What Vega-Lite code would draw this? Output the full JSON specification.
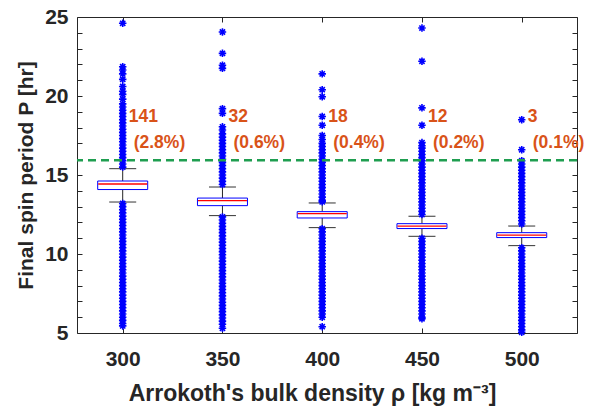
{
 "$schema": "https://vega.github.io/schema/vega-lite/v6.json",
 "autosize": "none",
 "width": 500,
 "height": 316,
 "padding": {"left": 77, "top": 17, "right": 21, "bottom": 73},
 "background": "white",
 "config": {
  "view": {"stroke": "#262626", "strokeWidth": 1},
  "font": "Liberation Sans",
  "axis": {"grid": false, "domain": false, "tickColor": "#262626", "tickWidth": 1, "labelColor": "#262626", "titleColor": "#262626", "labelFont": "Liberation Sans", "titleFont": "Liberation Sans", "labelFontWeight": "bold", "titleFontWeight": "bold", "labelFontSize": 21, "titleFontSize": 21, "labelFlush": false, "labelOverlap": false}
 },
 "datasets": {
  "box": [
   {"d": 300, "lo": 13.29, "q1": 14.08, "med": 14.43, "q3": 14.62, "hi": 15.4},
   {"d": 350, "lo": 12.43, "q1": 13.06, "med": 13.38, "q3": 13.54, "hi": 14.24},
   {"d": 400, "lo": 11.67, "q1": 12.28, "med": 12.56, "q3": 12.68, "hi": 13.23},
   {"d": 450, "lo": 11.12, "q1": 11.61, "med": 11.77, "q3": 11.92, "hi": 12.39},
   {"d": 500, "lo": 10.53, "q1": 11.04, "med": 11.2, "q3": 11.35, "hi": 11.77}
  ],
  "lab": [
   {"d": 300, "n": "141", "pct": "(2.8%)"},
   {"d": 350, "n": "32", "pct": "(0.6%)"},
   {"d": 400, "n": "18", "pct": "(0.4%)"},
   {"d": 450, "n": "12", "pct": "(0.2%)"},
   {"d": 500, "n": "3", "pct": "(0.1%)"}
  ],
  "out": [
   {"d":300,"p":24.6},{"d":300,"p":21.85},{"d":300,"p":21.65},{"d":300,"p":21.4},{"d":300,"p":21.05},{"d":300,"p":20.6},{"d":300,"p":20.3},{"d":300,"p":20.1},{"d":300,"p":19.8},{"d":300,"p":19.5},{"d":300,"p":19.3},{"d":300,"p":19.1},{"d":300,"p":18.9},{"d":300,"p":18.7},{"d":300,"p":18.5},{"d":300,"p":18.3},{"d":300,"p":18.1},{"d":300,"p":17.9},{"d":300,"p":17.7},{"d":300,"p":17.5},{"d":300,"p":17.3},{"d":300,"p":17.1},{"d":300,"p":16.9},{"d":300,"p":16.7},{"d":300,"p":16.5},{"d":300,"p":16.3},{"d":300,"p":16.1},{"d":300,"p":15.9},{"d":300,"p":15.7},{"d":300,"p":15.5},
   {"d":300,"p":13.2},{"d":300,"p":13.0},{"d":300,"p":12.8},{"d":300,"p":12.6},{"d":300,"p":12.4},{"d":300,"p":12.2},{"d":300,"p":12.0},{"d":300,"p":11.8},{"d":300,"p":11.6},{"d":300,"p":11.4},{"d":300,"p":11.2},{"d":300,"p":11.0},{"d":300,"p":10.8},{"d":300,"p":10.6},{"d":300,"p":10.4},{"d":300,"p":10.2},{"d":300,"p":10.0},{"d":300,"p":9.8},{"d":300,"p":9.6},{"d":300,"p":9.4},{"d":300,"p":9.2},{"d":300,"p":9.0},{"d":300,"p":8.8},{"d":300,"p":8.6},{"d":300,"p":8.4},{"d":300,"p":8.2},{"d":300,"p":8.0},{"d":300,"p":7.8},{"d":300,"p":7.6},{"d":300,"p":7.4},{"d":300,"p":7.2},{"d":300,"p":7.0},{"d":300,"p":6.8},{"d":300,"p":6.6},{"d":300,"p":6.4},{"d":300,"p":6.2},{"d":300,"p":6.0},{"d":300,"p":5.8},{"d":300,"p":5.6},{"d":300,"p":5.45},
   {"d":350,"p":24.05},{"d":350,"p":22.7},{"d":350,"p":21.95},{"d":350,"p":21.75},{"d":350,"p":19.2},{"d":350,"p":18.9},{"d":350,"p":18.05},{"d":350,"p":17.85},{"d":350,"p":17.6},{"d":350,"p":17.4},{"d":350,"p":17.2},{"d":350,"p":17.0},{"d":350,"p":16.8},{"d":350,"p":16.6},{"d":350,"p":16.4},{"d":350,"p":16.2},{"d":350,"p":16.0},{"d":350,"p":15.8},{"d":350,"p":15.6},{"d":350,"p":15.4},{"d":350,"p":15.2},{"d":350,"p":15.0},{"d":350,"p":14.8},{"d":350,"p":14.6},{"d":350,"p":14.4},
   {"d":350,"p":12.35},{"d":350,"p":12.15},{"d":350,"p":11.95},{"d":350,"p":11.75},{"d":350,"p":11.55},{"d":350,"p":11.35},{"d":350,"p":11.15},{"d":350,"p":10.95},{"d":350,"p":10.75},{"d":350,"p":10.55},{"d":350,"p":10.35},{"d":350,"p":10.15},{"d":350,"p":9.95},{"d":350,"p":9.75},{"d":350,"p":9.55},{"d":350,"p":9.35},{"d":350,"p":9.15},{"d":350,"p":8.95},{"d":350,"p":8.75},{"d":350,"p":8.55},{"d":350,"p":8.35},{"d":350,"p":8.15},{"d":350,"p":7.95},{"d":350,"p":7.75},{"d":350,"p":7.55},{"d":350,"p":7.35},{"d":350,"p":7.15},{"d":350,"p":6.95},{"d":350,"p":6.75},{"d":350,"p":6.55},{"d":350,"p":6.35},{"d":350,"p":6.15},{"d":350,"p":5.95},{"d":350,"p":5.75},{"d":350,"p":5.55},{"d":350,"p":5.3},
   {"d":400,"p":21.4},{"d":400,"p":20.4},{"d":400,"p":19.95},{"d":400,"p":18.7},{"d":400,"p":18.15},{"d":400,"p":17.5},{"d":400,"p":17.25},{"d":400,"p":17.0},{"d":400,"p":16.8},{"d":400,"p":16.6},{"d":400,"p":16.4},{"d":400,"p":16.2},{"d":400,"p":16.0},{"d":400,"p":15.8},{"d":400,"p":15.6},{"d":400,"p":15.4},{"d":400,"p":15.2},{"d":400,"p":15.0},{"d":400,"p":14.8},{"d":400,"p":14.6},{"d":400,"p":14.4},{"d":400,"p":14.2},{"d":400,"p":14.0},{"d":400,"p":13.8},{"d":400,"p":13.6},{"d":400,"p":13.4},{"d":400,"p":13.3},
   {"d":400,"p":11.6},{"d":400,"p":11.4},{"d":400,"p":11.2},{"d":400,"p":11.0},{"d":400,"p":10.8},{"d":400,"p":10.6},{"d":400,"p":10.4},{"d":400,"p":10.2},{"d":400,"p":10.0},{"d":400,"p":9.8},{"d":400,"p":9.6},{"d":400,"p":9.4},{"d":400,"p":9.2},{"d":400,"p":9.0},{"d":400,"p":8.8},{"d":400,"p":8.6},{"d":400,"p":8.4},{"d":400,"p":8.2},{"d":400,"p":8.0},{"d":400,"p":7.8},{"d":400,"p":7.6},{"d":400,"p":7.4},{"d":400,"p":7.2},{"d":400,"p":7.0},{"d":400,"p":6.8},{"d":400,"p":6.6},{"d":400,"p":6.4},{"d":400,"p":6.2},{"d":400,"p":6.0},{"d":400,"p":5.4},
   {"d":450,"p":24.3},{"d":450,"p":22.2},{"d":450,"p":19.25},{"d":450,"p":18.15},{"d":450,"p":17.05},{"d":450,"p":16.85},{"d":450,"p":16.7},{"d":450,"p":16.5},{"d":450,"p":16.3},{"d":450,"p":16.1},{"d":450,"p":15.9},{"d":450,"p":15.7},{"d":450,"p":15.5},{"d":450,"p":15.3},{"d":450,"p":15.1},{"d":450,"p":14.9},{"d":450,"p":14.7},{"d":450,"p":14.5},{"d":450,"p":14.3},{"d":450,"p":14.1},{"d":450,"p":13.9},{"d":450,"p":13.7},{"d":450,"p":13.5},{"d":450,"p":13.3},{"d":450,"p":13.1},{"d":450,"p":12.9},{"d":450,"p":12.7},{"d":450,"p":12.5},
   {"d":450,"p":11.0},{"d":450,"p":10.8},{"d":450,"p":10.6},{"d":450,"p":10.4},{"d":450,"p":10.2},{"d":450,"p":10.0},{"d":450,"p":9.8},{"d":450,"p":9.6},{"d":450,"p":9.4},{"d":450,"p":9.2},{"d":450,"p":9.0},{"d":450,"p":8.8},{"d":450,"p":8.6},{"d":450,"p":8.4},{"d":450,"p":8.2},{"d":450,"p":8.0},{"d":450,"p":7.8},{"d":450,"p":7.6},{"d":450,"p":7.4},{"d":450,"p":7.2},{"d":450,"p":7.0},{"d":450,"p":6.8},{"d":450,"p":6.6},{"d":450,"p":6.4},{"d":450,"p":6.2},{"d":450,"p":6.0},{"d":450,"p":5.9},
   {"d":500,"p":18.5},{"d":500,"p":16.6},{"d":500,"p":15.9},{"d":500,"p":15.7},{"d":500,"p":15.5},{"d":500,"p":15.3},{"d":500,"p":15.1},{"d":500,"p":14.9},{"d":500,"p":14.7},{"d":500,"p":14.5},{"d":500,"p":14.3},{"d":500,"p":14.1},{"d":500,"p":13.9},{"d":500,"p":13.7},{"d":500,"p":13.5},{"d":500,"p":13.3},{"d":500,"p":13.1},{"d":500,"p":12.9},{"d":500,"p":12.7},{"d":500,"p":12.5},{"d":500,"p":12.3},{"d":500,"p":12.1},{"d":500,"p":11.9},
   {"d":500,"p":10.4},{"d":500,"p":10.2},{"d":500,"p":10.0},{"d":500,"p":9.8},{"d":500,"p":9.6},{"d":500,"p":9.4},{"d":500,"p":9.2},{"d":500,"p":9.0},{"d":500,"p":8.8},{"d":500,"p":8.6},{"d":500,"p":8.4},{"d":500,"p":8.2},{"d":500,"p":8.0},{"d":500,"p":7.8},{"d":500,"p":7.6},{"d":500,"p":7.4},{"d":500,"p":7.2},{"d":500,"p":7.0},{"d":500,"p":6.8},{"d":500,"p":6.6},{"d":500,"p":6.4},{"d":500,"p":6.2},{"d":500,"p":6.0},{"d":500,"p":5.8},{"d":500,"p":5.6},{"d":500,"p":5.4},{"d":500,"p":5.2},{"d":500,"p":5.05}
  ]
 },
 "resolve": {"axis": {"x": "independent", "y": "independent"}},
 "layer": [
  {
   "data": {"name": "box"},
   "mark": {"type": "rule", "color": "#262626", "strokeWidth": 1},
   "encoding": {
    "x": {"field": "d", "type": "quantitative", "scale": {"domain": [279.6, 525.2], "nice": false, "zero": false},
     "axis": {"orient": "bottom", "values": [300, 350, 400, 450, 500], "tickSize": -5, "labelPadding": 20, "title": "Arrokoth's bulk density ρ [kg m⁻³]", "titleFontSize": 23, "titleX": 235, "titleY": 67.5, "titleBaseline": "alphabetic", "titleAlign": "center"}},
    "y": {"field": "q3", "type": "quantitative", "scale": {"domain": [5, 25], "nice": false, "zero": false},
     "axis": {"orient": "left", "values": [5,6,7,8,9,10,11,12,13,14,15,16,17,18,19,20,21,22,23,24,25], "labelExpr": "datum.value % 5 === 0 ? datum.label : ''", "tickSize": -5, "labelPadding": 14, "title": "Final spin period P [hr]", "titleX": -45, "titleBaseline": "alphabetic"}},
    "y2": {"field": "hi"}
   }
  },
  {
   "data": {"name": "box"},
   "mark": {"type": "rule", "color": "#262626", "strokeWidth": 1},
   "encoding": {
    "x": {"field": "d", "type": "quantitative", "scale": {"domain": [279.6, 525.2], "nice": false, "zero": false},
     "axis": {"orient": "top", "values": [300, 350, 400, 450, 500], "tickSize": -5, "labels": false, "title": null}},
    "y": {"field": "lo", "type": "quantitative", "scale": {"domain": [5, 25], "nice": false, "zero": false},
     "axis": {"orient": "right", "values": [5,6,7,8,9,10,11,12,13,14,15,16,17,18,19,20,21,22,23,24,25], "tickSize": -5, "labels": false, "title": null}},
    "y2": {"field": "q1"}
   }
  },
  {
   "data": {"name": "box"},
   "mark": {"type": "tick", "orient": "horizontal", "size": 27, "thickness": 1, "color": "#333333", "opacity": 1},
   "encoding": {
    "x": {"field": "d", "type": "quantitative", "axis": null},
    "y": {"field": "hi", "type": "quantitative", "axis": null}
   }
  },
  {
   "data": {"name": "box"},
   "mark": {"type": "tick", "orient": "horizontal", "size": 27, "thickness": 1, "color": "#333333", "opacity": 1},
   "encoding": {
    "x": {"field": "d", "type": "quantitative", "axis": null},
    "y": {"field": "lo", "type": "quantitative", "axis": null}
   }
  },
  {
   "data": {"name": "out"},
   "mark": {"type": "point", "shape": "M-1,0L1,0M0,-1L0,1M-0.7,-0.7L0.7,0.7M-0.7,0.7L0.7,-0.7", "filled": false, "color": "#0000ff", "strokeWidth": 1.6, "size": 56, "opacity": 1},
   "encoding": {
    "x": {"field": "d", "type": "quantitative", "axis": null},
    "y": {"field": "p", "type": "quantitative", "axis": null}
   }
  },
  {
   "data": {"name": "box"},
   "mark": {"type": "bar", "size": 50, "fill": "white", "stroke": "#0000ff", "strokeWidth": 1, "opacity": 1},
   "encoding": {
    "x": {"field": "d", "type": "quantitative", "axis": null},
    "y": {"field": "q1", "type": "quantitative", "axis": null},
    "y2": {"field": "q3"}
   }
  },
  {
   "data": {"name": "box"},
   "mark": {"type": "tick", "orient": "horizontal", "size": 49, "thickness": 1.3, "color": "#ff0000", "opacity": 1},
   "encoding": {
    "x": {"field": "d", "type": "quantitative", "axis": null},
    "y": {"field": "med", "type": "quantitative", "axis": null}
   }
  },
  {
   "data": {"values": [{}]},
   "mark": {"type": "rule", "color": "#1f9e50", "strokeWidth": 2.5, "strokeDash": [8, 5]},
   "encoding": {
    "y": {"datum": 15.93, "type": "quantitative", "axis": null}
   }
  },
  {
   "data": {"name": "lab"},
   "mark": {"type": "text", "align": "left", "baseline": "middle", "dx": 6, "fontSize": 17.5, "fontWeight": "bold", "color": "#D95319"},
   "encoding": {
    "x": {"field": "d", "type": "quantitative", "axis": null},
    "y": {"datum": 18.65, "type": "quantitative", "axis": null},
    "text": {"field": "n"}
   }
  },
  {
   "data": {"name": "lab"},
   "mark": {"type": "text", "align": "left", "baseline": "middle", "dx": 11, "fontSize": 17.5, "fontWeight": "bold", "color": "#D95319"},
   "encoding": {
    "x": {"field": "d", "type": "quantitative", "axis": null},
    "y": {"datum": 17.0, "type": "quantitative", "axis": null},
    "text": {"field": "pct"}
   }
  }
 ]
}
